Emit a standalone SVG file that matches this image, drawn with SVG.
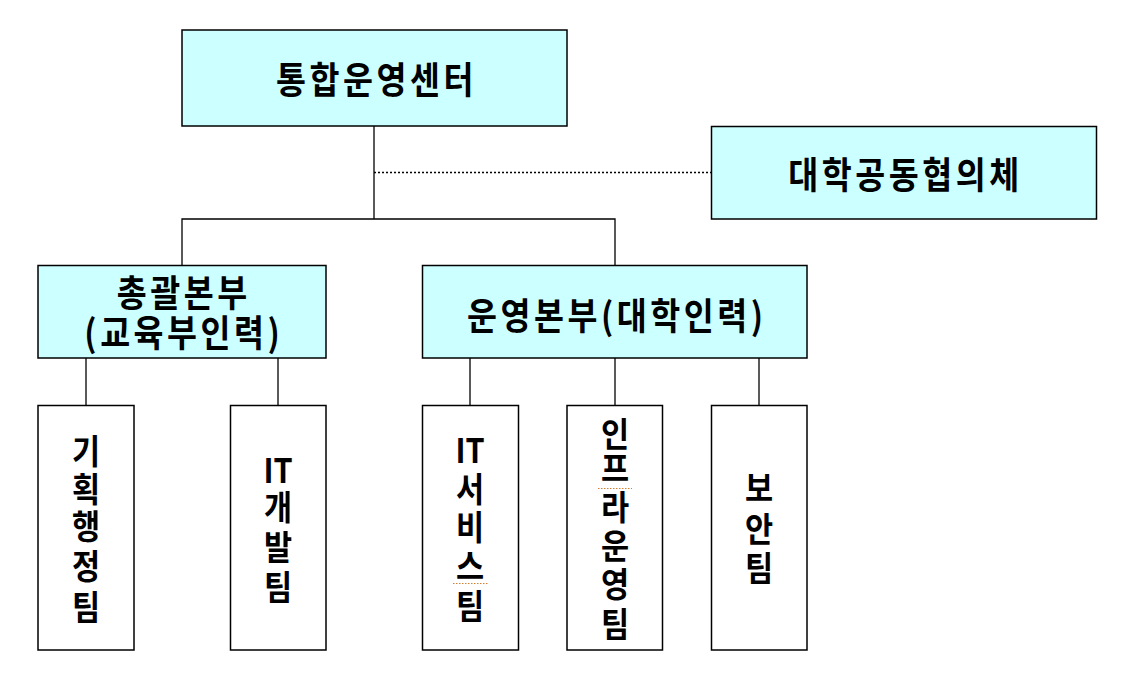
<svg xmlns="http://www.w3.org/2000/svg" width="1125" height="690" viewBox="0 0 1125 690">
<style>
.box{fill:#CCFFFF;stroke:#000;stroke-width:1.5}
.team{fill:#fff;stroke:#000;stroke-width:1.5}
.ln{stroke:#000;stroke-width:1.3;fill:none}
.dot{stroke:#000;stroke-width:1.5;stroke-dasharray:2 2;fill:none}
.sq{stroke:#D08030;stroke-width:1;stroke-dasharray:1.5 1.5;fill:none}
text{font-family:"Noto Sans CJK KR","Noto Sans",sans-serif;font-weight:bold;fill:#000;text-anchor:middle}
.t{font-size:37px;letter-spacing:4px}
.v{font-size:34px}
</style>
<rect width="1125" height="690" fill="#fff"/>
<g id="connectors">
<line class="ln" x1="374" y1="126" x2="374" y2="219"/>
<line class="dot" x1="374" y1="172.5" x2="711" y2="172.5"/>
<polyline class="ln" points="182,265 182,219 615,219 615,265"/>
<line class="ln" x1="86" y1="358" x2="86" y2="405"/>
<line class="ln" x1="278" y1="358" x2="278" y2="405"/>
<line class="ln" x1="470" y1="358" x2="470" y2="405"/>
<line class="ln" x1="615" y1="358" x2="615" y2="405"/>
<line class="ln" x1="759" y1="358" x2="759" y2="405"/>
</g>
<g id="center">
<rect class="box" x="182" y="30" width="385" height="96"/>
<text class="t" transform="translate(376.5,94) scale(0.88,1)">통합운영센터</text>
</g>
<g id="council">
<rect class="box" x="711.5" y="126.5" width="385" height="92.5"/>
<text class="t" transform="translate(905.5,189) scale(0.88,1)">대학공동협의체</text>
</g>
<g id="hq-general">
<rect class="box" x="38" y="265.5" width="288" height="92.5"/>
<text class="t" transform="translate(183.8,307) scale(0.88,1)">총괄본부</text>
<text class="t" transform="translate(183.8,347) scale(0.88,1)">(교육부인력)</text>
</g>
<g id="hq-ops">
<rect class="box" x="422.5" y="265.5" width="384.5" height="92.5"/>
<text class="t" transform="translate(616.8,330) scale(0.88,1)">운영본부(대학인력)</text>
</g>
<g id="team-planning">
<rect class="team" x="38" y="405.5" width="96" height="244.5"/>
<text class="v" transform="translate(86,464) scale(0.9,1)">기</text>
<text class="v" transform="translate(86,502) scale(0.9,1)">획</text>
<text class="v" transform="translate(86,539) scale(0.9,1)">행</text>
<text class="v" transform="translate(86,579) scale(0.9,1)">정</text>
<text class="v" transform="translate(86,620) scale(0.9,1)">팀</text>
</g>
<g id="team-itdev">
<rect class="team" x="230.5" y="405.5" width="95.5" height="244.5"/>
<text class="v" transform="translate(278,483) scale(0.9,1)">IT</text>
<text class="v" transform="translate(278,520) scale(0.9,1)">개</text>
<text class="v" transform="translate(278,560) scale(0.9,1)">발</text>
<text class="v" transform="translate(278,600) scale(0.9,1)">팀</text>
</g>
<g id="team-itservice">
<rect class="team" x="422.5" y="405.5" width="96" height="244.5"/>
<text class="v" transform="translate(470,463) scale(0.9,1)">IT</text>
<text class="v" transform="translate(470,502) scale(0.9,1)">서</text>
<text class="v" transform="translate(470,540) scale(0.9,1)">비</text>
<text class="v" transform="translate(470,579) scale(0.9,1)">스</text>
<text class="v" transform="translate(470,619) scale(0.9,1)">팀</text>
<line class="sq" x1="453" y1="583.5" x2="488" y2="583.5"/>
</g>
<g id="team-infra">
<rect class="team" x="567" y="405.5" width="95.5" height="244.5"/>
<text class="v" transform="translate(615,447) scale(0.9,1)">인</text>
<text class="v" transform="translate(615,481) scale(0.9,1)">프</text>
<text class="v" transform="translate(615,520) scale(0.9,1)">라</text>
<text class="v" transform="translate(615,559) scale(0.9,1)">운</text>
<text class="v" transform="translate(615,597) scale(0.9,1)">영</text>
<text class="v" transform="translate(615,637) scale(0.9,1)">팀</text>
<line class="sq" x1="598" y1="488.5" x2="632" y2="488.5"/>
</g>
<g id="team-security">
<rect class="team" x="711.5" y="405.5" width="95.5" height="244.5"/>
<text class="v" transform="translate(759,501) scale(0.9,1)">보</text>
<text class="v" transform="translate(759,542) scale(0.9,1)">안</text>
<text class="v" transform="translate(759,581) scale(0.9,1)">팀</text>
</g>
</svg>
